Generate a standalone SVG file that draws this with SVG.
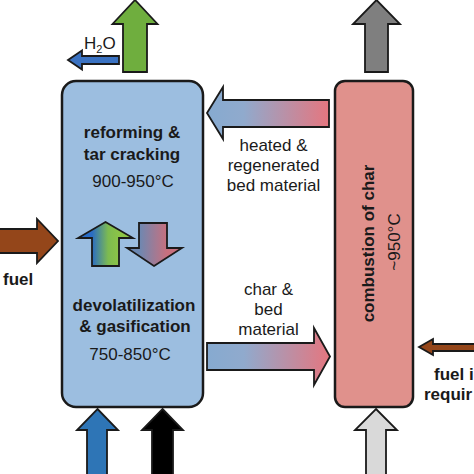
<svg xmlns="http://www.w3.org/2000/svg" width="474" height="474" viewBox="0 0 474 474">
  <style>
    .b { font-family: "Liberation Sans", Arial, sans-serif; font-weight: bold; font-size: 17px; fill: #1a1a1a; }
    .r { font-family: "Liberation Sans", Arial, sans-serif; font-size: 17px; fill: #1a1a1a; }
    .arr { stroke: #1a1a1a; stroke-width: 1.8; stroke-linejoin: miter; }
    .box { stroke: #1a1a1a; stroke-width: 2.5; }
  </style>
  <defs>
    <linearGradient id="gHeated" x1="207" y1="0" x2="329" y2="0" gradientUnits="userSpaceOnUse">
      <stop offset="0" stop-color="#86aad0"/>
      <stop offset="0.3" stop-color="#90aacd"/>
      <stop offset="1" stop-color="#e5767f"/>
    </linearGradient>
    <linearGradient id="gChar" x1="207" y1="0" x2="330" y2="0" gradientUnits="userSpaceOnUse">
      <stop offset="0" stop-color="#86aad0"/>
      <stop offset="0.3" stop-color="#90aacd"/>
      <stop offset="1" stop-color="#e5767f"/>
    </linearGradient>
    <linearGradient id="gUp" x1="92" y1="0" x2="119" y2="0" gradientUnits="userSpaceOnUse">
      <stop offset="0" stop-color="#2a6cc4"/>
      <stop offset="0.6" stop-color="#7dbb50"/>
      <stop offset="1" stop-color="#8cc447"/>
    </linearGradient>
    <linearGradient id="gDown" x1="139" y1="0" x2="167" y2="0" gradientUnits="userSpaceOnUse">
      <stop offset="0" stop-color="#6c88b2"/>
      <stop offset="1" stop-color="#c8707e"/>
    </linearGradient>
  </defs>

  <g id="gasifier">
    <rect class="box" x="62" y="81" width="141" height="326" rx="14" ry="14" fill="#9cbee0"/>
    <text class="b" x="132" y="138" text-anchor="middle">reforming &amp;</text>
    <text class="b" x="132" y="160" text-anchor="middle">tar cracking</text>
    <text class="r" x="133" y="187" text-anchor="middle">900-950°C</text>
    <text class="b" x="134" y="311" text-anchor="middle">devolatilization</text>
    <text class="b" x="135" y="332" text-anchor="middle">&amp; gasification</text>
    <text class="r" x="130" y="360" text-anchor="middle">750-850°C</text>
    <path class="arr" d="M105.5,222 L133,238 L119,238 L119,266 L92,266 L92,238 L78,238 Z" fill="url(#gUp)"/>
    <path class="arr" d="M154,266 L182,248 L167,248 L167,223 L139,223 L139,248 L127,248 Z" fill="url(#gDown)"/>
  </g>

  <g id="combustor">
    <rect class="box" x="335" y="81" width="78" height="326" rx="10" ry="10" fill="#e0918c"/>
    <text class="b" transform="translate(373.5,243.5) rotate(-90)" text-anchor="middle" font-size="16.5">combustion of char</text>
    <text class="r" transform="translate(399.5,242) rotate(-90)" text-anchor="middle">~950°C</text>
  </g>

  <g id="connectors">
    <path class="arr" d="M135,0 L157.5,24 L147,24 L147,72 L123,72 L123,24 L112.5,24 Z" fill="#6fae3e"/>
    <path class="arr" d="M68,60 L82,50.5 L82,56 L119,56 L119,64 L82,64 L82,69.5 Z" fill="#3a72c2" stroke-width="1.2"/>
    <path class="arr" d="M376.5,0 L400,24 L388,24 L388,72 L365,72 L365,24 L353,24 Z" fill="#7f7f7f"/>
    <path class="arr" d="M207,113 L223,87 L223,100 L329,100 L329,127 L223,127 L223,139 Z" fill="url(#gHeated)"/>
    <path class="arr" d="M207,343 L314,343 L314,328 L330,356.5 L314,385 L314,370 L207,370 Z" fill="url(#gChar)"/>
    <path class="arr" d="M-2,229 L37,229 L37,219 L58,241 L37,263 L37,253 L-2,253 Z" fill="#94461a"/>
    <path class="arr" d="M419,347 L433,339 L433,344 L476,344 L476,351 L433,351 L433,355 Z" fill="#94461a" stroke-width="1.4"/>
    <path class="arr" d="M97.5,409 L118,430 L107,430 L107,476 L87,476 L87,430 L77,430 Z" fill="#2e75b6"/>
    <path class="arr" d="M162.5,409 L183,430 L173,430 L173,476 L152,476 L152,430 L142,430 Z" fill="#000000"/>
    <path class="arr" d="M376,409 L397,430 L386,430 L386,476 L366,476 L366,430 L355,430 Z" fill="#d9d9d9"/>
  </g>

  <g id="labels">
    <text class="r" x="84" y="49">H<tspan font-size="11" dy="4">2</tspan><tspan dy="-4">O</tspan></text>
    <text class="r" x="273.5" y="151" text-anchor="middle">heated &amp;</text>
    <text class="r" x="273.5" y="171" text-anchor="middle">regenerated</text>
    <text class="r" x="273.5" y="191" text-anchor="middle">bed material</text>
    <text class="r" x="268.5" y="295" text-anchor="middle">char &amp;</text>
    <text class="r" x="268.5" y="315" text-anchor="middle">bed</text>
    <text class="r" x="268.5" y="335" text-anchor="middle">material</text>
    <text class="b" x="3" y="285">fuel</text>
    <text class="b" x="434" y="380">fuel i</text>
    <text class="b" x="424" y="400">requir</text>
  </g>
</svg>
